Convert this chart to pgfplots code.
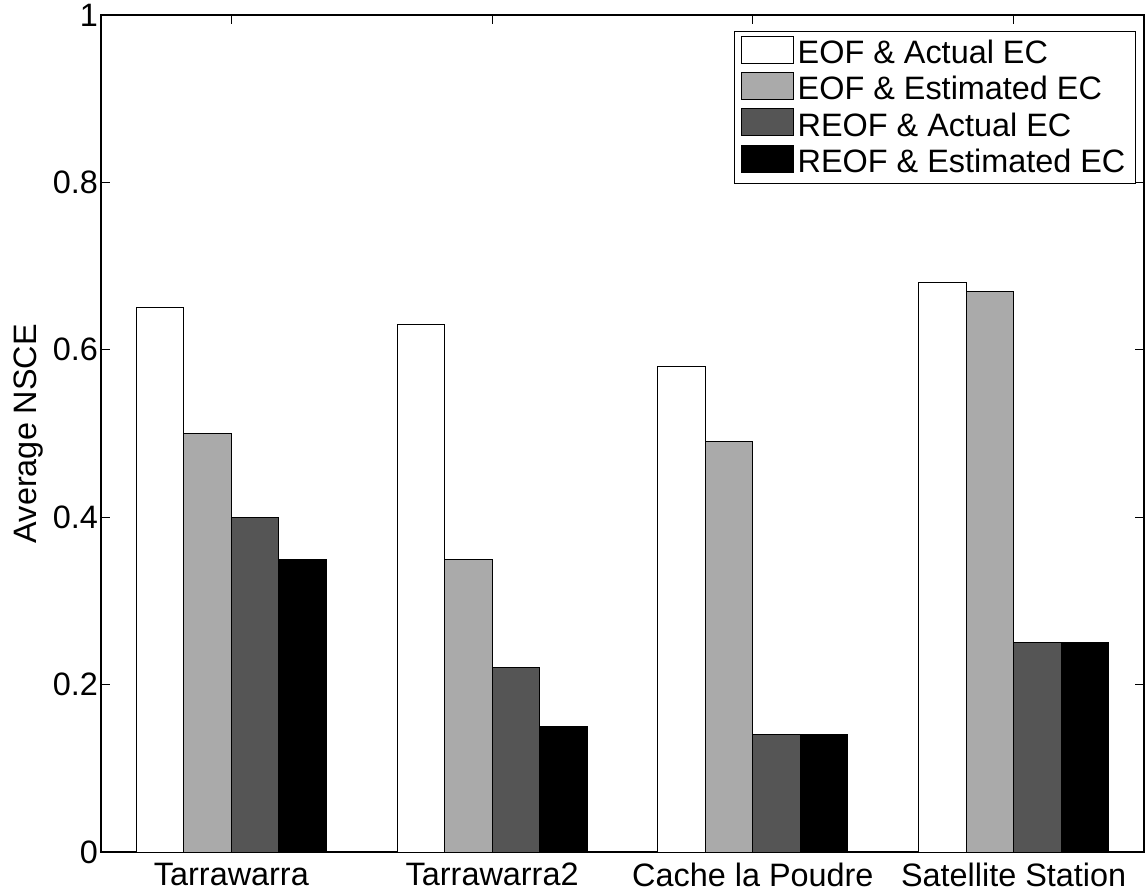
\documentclass[border=0pt]{standalone}
\usepackage{fontspec}
\setmainfont{Liberation Sans}
\usepackage{pgfplots}
\pgfplotsset{compat=1.18}
\definecolor{midgray}{RGB}{170,170,170}
\definecolor{darkgray}{RGB}{85,85,85}
\begin{document}
\begin{tikzpicture}
\begin{axis}[
  name=ax,
  scale only axis,
  width=521.5pt, height=418.5pt,
  xmin=0.5, xmax=4.5, ymin=0, ymax=1,
  xtick={1,2,3,4},
  xticklabels={Tarrawarra,Tarrawarra2,Cache la Poudre,Satellite Station},
  ytick={0,0.2,0.4,0.6,0.8,1},
  yticklabels={0,0.2,0.4,0.6,0.8,1},
  tick align=inside,
  xtick pos=both, ytick pos=both,
  major tick length=4.5pt,
  tick style={black, line width=0.5pt},
  axis line style={line width=0.8pt},
  /pgf/number format/assume math mode=true,
  ticklabel style={font=\fontsize{16.2}{19}\selectfont},
  yticklabel style={xshift=2pt},
  xticklabel style={yshift=-2pt},
  label style={font=\fontsize{16.2}{19}\selectfont},
  ylabel={Average NSCE},
  ylabel style={yshift=-2pt},
  legend cell align=left,
  legend style={at={(1,1)}, anchor=north east, xshift=-4pt, yshift=-8pt,
    draw=black, line width=0.6pt, font=\fontsize{16.2}{19}\selectfont,
    inner xsep=3pt, inner ysep=2pt, row sep=0.8pt,
    /tikz/every odd column/.append style={column sep=0pt}},
  legend image code/.code={\draw[#1, line width=0.5pt] (0pt,-5pt) rectangle (26pt,8.5pt);},
  every axis plot/.append style={ybar, bar width=0.182, draw=black, line width=0.5pt},
]
\addplot[fill=white, bar shift=-0.273] coordinates {(1,0.65) (2,0.63) (3,0.58) (4,0.68)};
\addlegendentry{EOF \& Actual EC}
\addplot[fill=midgray, bar shift=-0.091] coordinates {(1,0.50) (2,0.35) (3,0.49) (4,0.67)};
\addlegendentry{EOF \& Estimated EC}
\addplot[fill=darkgray, bar shift=0.091] coordinates {(1,0.40) (2,0.22) (3,0.14) (4,0.25)};
\addlegendentry{REOF \& Actual EC}
\addplot[fill=black, bar shift=0.273] coordinates {(1,0.35) (2,0.15) (3,0.14) (4,0.25)};
\addlegendentry{REOF \& Estimated EC}
\end{axis}
\pgfresetboundingbox
\path ([xshift=-50.5pt,yshift=-21pt]ax.south west) rectangle ([xshift=1.5pt,yshift=7.5pt]ax.north east);
\end{tikzpicture}
\end{document}
